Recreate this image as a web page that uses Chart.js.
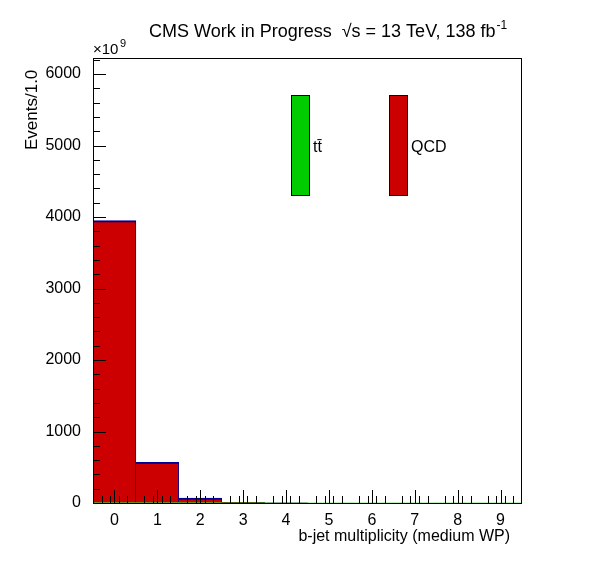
<!DOCTYPE html><html><head><script src="https://cdn.jsdelivr.net/npm/chart.js@4"></script>
<style>body{margin:0;background:#fff}#w{width:596px;height:572px}</style></head><body><div id="w"><canvas id="c"></canvas></div>
<script>
const categories=['0','1','2','3','4','5','6','7','8','9'];
const ttbarValues=[2,3,2,1,0,0,0,0,0,0];
const qcdValues=[3948,567,68,9,1,0,0,0,0,0];
const yTicks=[0,1000,2000,3000,4000,5000,6000];
const F='Liberation Sans, Arial, sans-serif';
const deco={id:'deco',afterDraw(ch){const c=ch.ctx,a=ch.chartArea,x=ch.scales.x,y=ch.scales.y;
c.save();c.strokeStyle='#000';c.lineWidth=1;c.strokeRect(a.left+.5,a.top+.5,a.right-a.left-1,a.bottom-a.top);
c.beginPath();
for(let v=0;v<=6200;v+=200){const p=Math.round(y.getPixelForValue(v))+.5;const L=(v%1000===0)?13:7;c.moveTo(a.left,p);c.lineTo(a.left+L,p);}
for(let i=0;i<=10;i++){for(let k=1;k<5;k++){const v=i-0.5+k*0.2;if(v>9.5)break;const px=a.left+(v+0.5)/10*(a.right-a.left);c.moveTo(Math.round(px)+.5,a.bottom);c.lineTo(Math.round(px)+.5,a.bottom-7);}
if(i<10){const pc=Math.round(x.getPixelForValue(i))+.5;c.moveTo(pc,a.bottom);c.lineTo(pc,a.bottom-13);}}
c.stroke();
c.fillStyle='#000';c.font='18px '+F;c.textAlign='left';c.textBaseline='alphabetic';
const t='CMS Work in Progress  √s = 13 TeV, 138 fb';c.fillText(t,149,37);const tw=c.measureText(t).width;c.font='12px '+F;c.fillText('-1',149+tw+1,29);
c.font='16px '+F;c.textAlign='right';c.fillText('b-jet multiplicity (medium WP)',510,541);
c.textAlign='left';c.font='15px '+F;c.fillText('×10',93,54);c.font='11px '+F;c.fillText('9',120,47);
c.save();c.translate(37,150);c.rotate(-Math.PI/2);c.font='17px '+F;c.textAlign='left';c.fillText('Events/1.0',0,0);c.restore();
const ds=ch.data.datasets;const boxes=[[291,95],[389,95]];
ds.forEach((d,i)=>{const [bx,by]=boxes[i];c.fillStyle=d.backgroundColor;c.fillRect(bx,by,18,101);c.strokeStyle='#000';c.strokeRect(bx+.5,by+.5,18,100);
c.fillStyle='#000';c.font='16px '+F;c.textAlign='left';c.fillText(d.label,bx+22,152);});
c.restore();}};
new Chart(document.getElementById('c'),{type:'bar',data:{labels:categories,datasets:[
{label:'tt̄',data:ttbarValues,backgroundColor:'#00cc00',borderWidth:0},
{label:'QCD',data:qcdValues,backgroundColor:'#cc0000',borderColor:'#000099',borderWidth:{top:2,right:1,left:0,bottom:0},borderSkipped:'bottom'}]},
options:{responsive:true,maintainAspectRatio:false,animation:false,layout:{padding:{top:58,right:74,left:0,bottom:0}},
datasets:{bar:{barPercentage:1,categoryPercentage:1}},
plugins:{legend:{display:false},tooltip:{enabled:false}},
scales:{x:{stacked:true,grid:{display:false},border:{display:false},ticks:{color:'#000',font:{family:F,size:16},padding:0},afterFit(s){s.height=69;}},
y:{stacked:true,min:0,max:6224,afterBuildTicks(s){s.ticks=yTicks.map(v=>({value:v}));},grid:{display:false},border:{display:false},ticks:{color:'#000',font:{family:F,size:16},padding:4,callback:v=>String(v)},afterFit(s){s.width=93;}}}},
plugins:[deco]});
</script></body></html>
